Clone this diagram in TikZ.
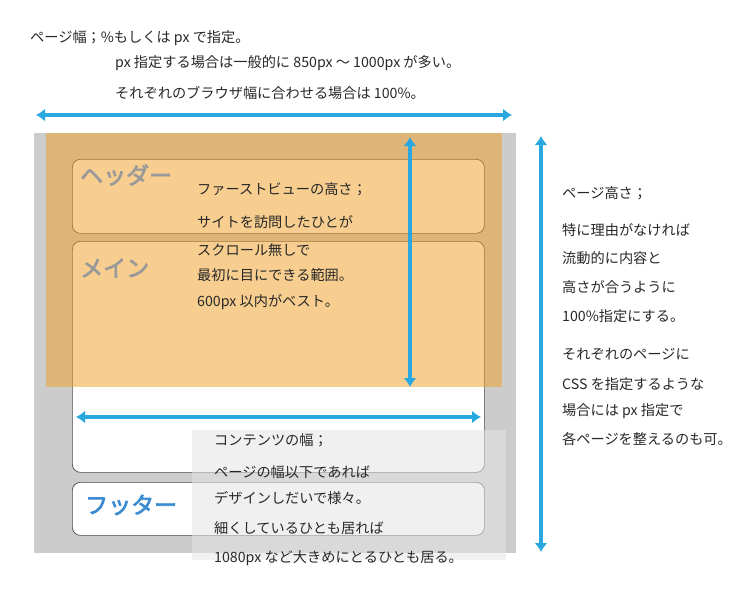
\documentclass[tikz,border=0pt]{standalone}
\usetikzlibrary{arrows.meta}
\usepackage{fontspec}
\setmainfont{Noto Sans CJK JP}
\newfontfamily\jpb{Noto Sans CJK JP}[FakeBold=3]
\definecolor{ablue}{RGB}{41,168,224}
\definecolor{lblue}{RGB}{60,140,210}
\definecolor{ora}{RGB}{241,159,33}
\definecolor{txt}{RGB}{40,40,40}
\begin{document}
\begin{tikzpicture}[x=1pt,y=-1pt,
  arr/.style={ablue,line width=3.5pt,{Latex[length=9pt,width=13pt]}-{Latex[length=9pt,width=13pt]}},
  lbl/.style={anchor=west,inner sep=0,font=\fontsize{14.2}{16}\selectfont,text=txt},
  boxx/.style={draw=black!70,rounded corners=8pt,fill=white,line width=0.7pt},
  tag/.style={anchor=west,inner sep=0,font=\jpb\fontsize{23}{26}\selectfont}]
\useasboundingbox (0,0) rectangle (754,592);
\fill[black!20] (34,133) rectangle (516,553);
\node[boxx,minimum width=412,minimum height=74,anchor=north west] (hb) at (72,159) {};
\node[boxx,minimum width=412,minimum height=231,anchor=north west] (mb) at (72,241) {};
\node[boxx,minimum width=412,minimum height=53,anchor=north west] (fb) at (72,482) {};
\fill[ora,fill opacity=0.5] (46,133) rectangle (502,387);
\fill[black!10,fill opacity=0.55] (192,430) rectangle (506,560);
\node[tag,text=black!40] (h) at (80,175) {ヘッダー};
\node[tag,text=black!40] (m) at (80,268) {メイン};
\node[tag,text=lblue] (f) at (85,505) {フッター};
\coordinate (t1) at (36,115); \coordinate (t2) at (512,115);
\draw[arr] (t1) -- (t2);
\coordinate (r1) at (541,136); \coordinate (r2) at (541,552);
\draw[arr] (r1) -- (r2);
\coordinate (v1) at (410,137); \coordinate (v2) at (410,387);
\draw[arr] (v1) -- (v2);
\coordinate (w1) at (76,417); \coordinate (w2) at (481,417);
\draw[arr] (w1) -- (w2);
\node[lbl] (a1) at (30,38) {ページ幅；\%もしくは px で指定。};
\node[lbl] (a2) at (115,63) {px 指定する場合は一般的に 850px 〜 1000px が多い。};
\node[lbl] (a3) at (115,93) {それぞれのブラウザ幅に合わせる場合は 100\%。};
\node[lbl] (b1) at (562,193) {ページ高さ；};
\node[lbl] (b2) at (562,230) {特に理由がなければ};
\node[lbl] (b3) at (562,258) {流動的に内容と};
\node[lbl] (b4) at (562,287) {高さが合うように};
\node[lbl] (b5) at (562,316) {100\%指定にする。};
\node[lbl] (c1) at (562,354) {それぞれのページに};
\node[lbl] (c2) at (562,384) {CSS を指定するような};
\node[lbl] (c3) at (562,411) {場合には px 指定で};
\node[lbl] (c4) at (562,439) {各ページを整えるのも可。};
\node[lbl] (d1) at (197,189) {ファーストビューの高さ；};
\node[lbl] (d2) at (197,222) {サイトを訪問したひとが};
\node[lbl] (d3) at (197,250) {スクロール無しで};
\node[lbl] (d4) at (197,275) {最初に目にできる範囲。};
\node[lbl] (d5) at (197,302) {600px 以内がベスト。};
\node[lbl] (e1) at (214,440) {コンテンツの幅；};
\node[lbl] (e2) at (214,472) {ページの幅以下であれば};
\node[lbl] (e3) at (214,498) {デザインしだいで様々。};
\node[lbl] (e4) at (214,528) {細くしているひとも居れば};
\node[lbl] (e5) at (214,558) {1080px など大きめにとるひとも居る。};
\end{tikzpicture}
\end{document}
